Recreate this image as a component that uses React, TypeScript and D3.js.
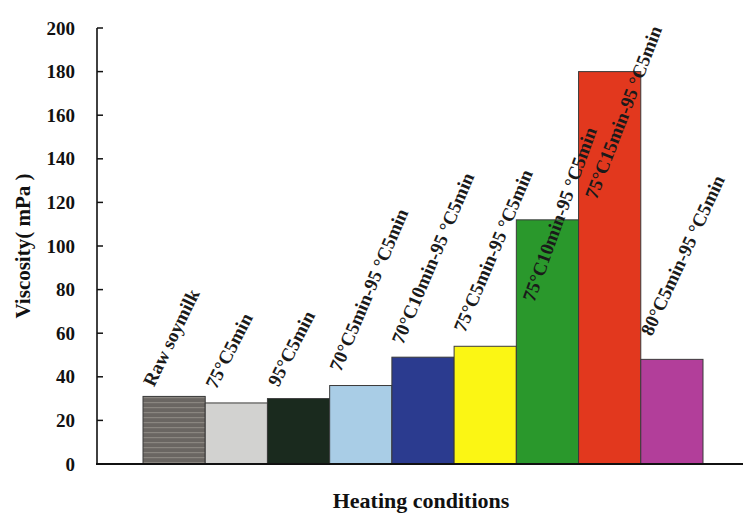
import React from "react";
import * as d3 from "d3";

const categories = [
  "Raw soymilk",
  "75°C5min",
  "95°C5min",
  "70°C5min-95 °C5min",
  "70°C10min-95 °C5min",
  "75°C5min-95 °C5min",
  "75°C10min-95 °C5min",
  "75°C15min-95 °C5min",
  "80°C5min-95 °C5min",
];
const viscosity = [31, 28, 30, 36, 49, 54, 112, 180, 48];
// value (in mPa units) where each rotated label begins
const labelAt = [35, 34, 35, 42, 54.5, 60, 74, 121, 58.3];
const labelAngle = [-64, -63, -63, -67, -67, -67, -70, -69, -65];
const barColors = [
  "url(#stripes)",
  "#d2d2d0",
  "#1a2a1e",
  "#a9cde6",
  "#2b3b8f",
  "#fbf614",
  "#2a982c",
  "#e2381e",
  "#b23e9a",
];
const yTicks = [0, 20, 40, 60, 80, 100, 120, 140, 160, 180, 200];

const W = 743;
const H = 514;
const FONT = "'Liberation Serif', 'Times New Roman', serif";

export default function App() {
  const y = d3.scaleLinear().domain([0, 200]).range([464, 28]);
  const x = d3.scaleBand().domain(categories).range([143, 703]).padding(0);
  const axisX = 97;

  return (
    <svg
      width={W}
      height={H}
      style={{ position: "absolute", left: 0, top: 0, background: "#fff" }}
      fontFamily={FONT}
    >
      <defs>
        <pattern id="stripes" width="8" height="5" patternUnits="userSpaceOnUse">
          <rect width="8" height="5" fill="#6a6662" />
          <rect y="2" width="8" height="1.2" fill="#8a8680" />
        </pattern>
      </defs>
      {categories.map((c, i) => (
        <rect
          key={c}
          x={x(c)!}
          y={y(viscosity[i])}
          width={x.bandwidth()}
          height={y(0) - y(viscosity[i])}
          fill={barColors[i]}
          stroke="#3a3a3a"
          strokeWidth={1}
        />
      ))}
      {categories.map((c, i) => {
        const lx = x(c)! + (i >= 6 && i <= 7 ? 18 : 11);
        const ly = y(labelAt[i]);
        return (
          <text
            key={"l" + c}
            transform={`translate(${lx},${ly}) rotate(${labelAngle[i]})`}
            fontSize={19}
            fontWeight="bold"
            fill="#1a1a1a"
          >
            {c}
          </text>
        );
      })}
      {/* axes */}
      <line x1={axisX} x2={axisX} y1={y(200)} y2={y(0)} stroke="#111" strokeWidth={1.6} />
      <line x1={axisX - 1} x2={W} y1={y(0)} y2={y(0)} stroke="#111" strokeWidth={2} />
      {yTicks.map((t) => (
        <g key={t}>
          <line x1={axisX} x2={axisX + 6} y1={y(t)} y2={y(t)} stroke="#111" strokeWidth={1.5} />
          <text
            x={75}
            y={y(t)}
            dy="0.35em"
            textAnchor="end"
            fontSize={19}
            fontWeight="bold"
            fill="#111"
          >
            {t}
          </text>
        </g>
      ))}
      <text
        transform={`translate(30,${(y(0) + y(200)) / 2}) rotate(-90)`}
        textAnchor="middle"
        fontSize={21}
        fontWeight="bold"
        fill="#111"
      >
        Viscosity( mPa )
      </text>
      <text x={421} y={508} textAnchor="middle" fontSize={22} fontWeight="bold" fill="#111">
        Heating conditions
      </text>
    </svg>
  );
}
